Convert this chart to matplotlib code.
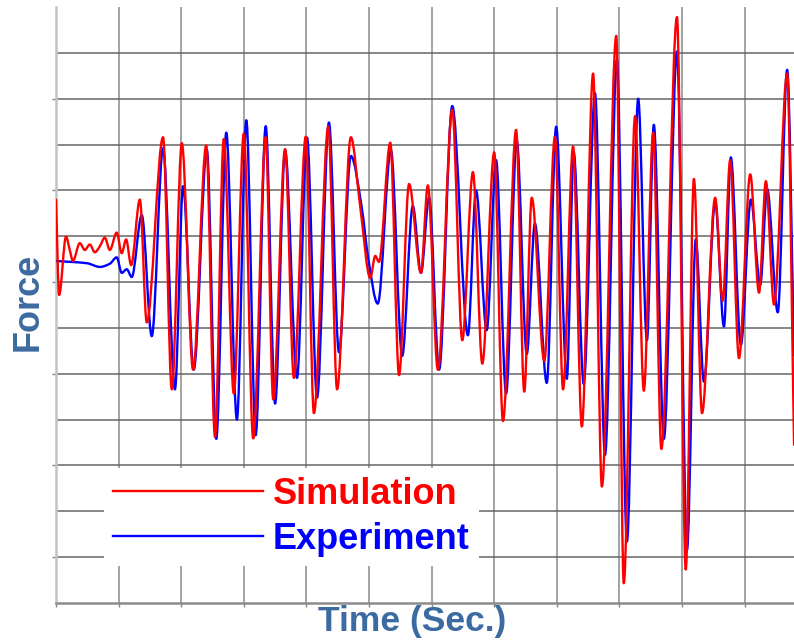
import numpy as np
import matplotlib
matplotlib.use("Agg")
import matplotlib.pyplot as plt
from matplotlib.path import Path
from matplotlib.patches import PathPatch
from matplotlib.lines import Line2D

# ---- data (time and force in grid units) ----
t_sim = [0.00, 0.05, 0.16, 0.22, 0.27, 0.38, 0.46, 0.54, 0.62, 0.70, 0.78, 0.86, 0.97, 1.05,
         1.12, 1.20, 1.34, 1.45, 1.71, 1.85, 2.01, 2.19, 2.40, 2.54, 2.68, 2.84, 3.00, 3.15,
         3.35, 3.47, 3.66, 3.80, 3.99, 4.12, 4.35, 4.49, 4.71, 4.86, 5.02, 5.10, 5.16, 5.34,
         5.48, 5.64, 5.83, 5.94, 6.10, 6.33, 6.49, 6.66, 6.81, 7.00, 7.14, 7.35, 7.48, 7.60,
         7.80, 7.97, 8.10, 8.26, 8.40, 8.58, 8.72, 8.95, 9.07, 9.25, 9.39, 9.54, 9.67, 9.92,
         10.06, 10.19, 10.32, 10.53, 10.65, 10.77, 10.91, 11.09, 11.23, 11.34, 11.47, 11.68, 11.79]
f_sim = [8.80, 6.72, 7.99, 7.70, 7.46, 7.85, 7.70, 7.82, 7.65, 7.78, 7.97, 7.70, 8.08, 7.63,
         7.93, 7.37, 8.80, 6.12, 10.16, 4.66, 10.03, 5.09, 9.98, 3.62, 10.12, 4.57, 10.24, 3.59,
         10.16, 4.44, 9.90, 4.91, 10.17, 4.14, 10.39, 4.66, 10.16, 8.64, 7.09, 7.57, 7.44, 10.04,
         4.97, 9.14, 7.20, 9.11, 5.09, 10.76, 5.73, 9.40, 5.22, 9.83, 3.97, 10.32, 4.61, 8.84,
         5.28, 10.17, 4.66, 9.96, 3.85, 11.55, 2.54, 12.37, 0.43, 10.62, 4.63, 10.26, 3.36, 12.78,
         0.73, 9.25, 4.14, 8.84, 6.59, 9.66, 5.34, 9.35, 6.77, 9.20, 6.51, 11.55, 3.45]

t_exp = [0.00, 0.50, 0.70, 0.86, 0.97, 1.05, 1.13, 1.21, 1.37, 1.53, 1.71, 1.90, 2.03, 2.20,
         2.41, 2.56, 2.72, 2.89, 3.04, 3.19, 3.35, 3.50, 3.66, 3.85, 4.01, 4.17, 4.36, 4.52,
         4.71, 4.89, 4.98, 5.14, 5.35, 5.53, 5.70, 5.83, 5.96, 6.12, 6.33, 6.58, 6.71, 6.88,
         7.03, 7.19, 7.36, 7.52, 7.65, 7.84, 7.99, 8.16, 8.27, 8.43, 8.61, 8.77, 8.96, 9.12,
         9.30, 9.44, 9.55, 9.71, 9.92, 10.08, 10.22, 10.35, 10.53, 10.67, 10.78, 10.94, 11.10,
         11.25, 11.36, 11.53, 11.68, 11.79]
f_exp = [7.46, 7.41, 7.33, 7.40, 7.54, 7.20, 7.28, 7.11, 8.46, 5.82, 9.92, 4.66, 9.09, 5.09,
         9.88, 3.58, 10.26, 4.00, 10.53, 3.66, 10.40, 4.35, 9.87, 4.91, 10.15, 4.48, 10.48, 5.47,
         9.75, 8.57, 7.59, 6.53, 9.87, 5.39, 8.66, 7.20, 8.84, 5.09, 10.84, 5.84, 9.00, 5.95,
         9.66, 4.57, 10.09, 5.43, 8.28, 4.80, 10.39, 4.89, 9.83, 4.78, 11.12, 3.23, 11.85, 1.34,
         11.00, 5.73, 10.43, 3.58, 12.03, 1.16, 7.93, 4.83, 8.75, 6.03, 9.72, 5.63, 8.80,
         6.94, 9.03, 6.34, 11.63, 5.40]

labels = ["Simulation", "Experiment"]
colors = ["#ff0000", "#0000ff"]
label_color = "#3b6ba0"


def smooth_path(t, f):
    """Smooth curve through the read points (monotone cubic Bezier segments)."""
    t = np.asarray(t, float)
    f = np.asarray(f, float)
    h = np.diff(t)
    d = np.diff(f) / h
    m = np.zeros_like(f)
    m[0], m[-1] = d[0], d[-1]
    for k in range(1, len(f) - 1):
        if d[k - 1] * d[k] > 0:
            w1 = 2 * h[k] + h[k - 1]
            w2 = h[k] + 2 * h[k - 1]
            m[k] = (w1 + w2) / (w1 / d[k - 1] + w2 / d[k])
    verts = [(t[0], f[0])]
    codes = [Path.MOVETO]
    for k in range(len(f) - 1):
        verts += [(t[k] + h[k] / 3, f[k] + m[k] * h[k] / 3),
                  (t[k + 1] - h[k] / 3, f[k + 1] - m[k + 1] * h[k] / 3),
                  (t[k + 1], f[k + 1])]
        codes += [Path.CURVE4] * 3
    return Path(verts, codes)


W, H = 794, 641
fig = plt.figure(figsize=(W / 100, H / 100), dpi=100)
ax = fig.add_axes([56 / W, 1 - 603 / H, (W - 56) / W, (603 - 7) / H])

ax.set_xlim(0, (W - 56) / 62.6)
ax.set_ylim(0, 13)

ax.add_patch(PathPatch(smooth_path(t_exp, f_exp), fill=False, edgecolor=colors[1],
                       lw=1.7, joinstyle="round", capstyle="round", zorder=3))
ax.add_patch(PathPatch(smooth_path(t_sim, f_sim), fill=False, edgecolor=colors[0],
                       lw=1.7, joinstyle="round", capstyle="round", zorder=4))

# grid & ticks
ax.set_xticks(np.arange(0, 12))
ax.set_yticks(np.arange(1, 13, 2))
ax.set_yticks(np.arange(2, 13, 2), minor=True)
ax.tick_params(axis="both", which="both", labelleft=False, labelbottom=False,
               direction="out", color="#888888", width=1.0)
ax.tick_params(axis="x", which="major", length=3)
ax.tick_params(axis="y", which="major", length=3)
ax.tick_params(axis="y", which="minor", length=0)
ax.set_axisbelow(True)
ax.grid(axis="x", which="major", color="#8a8a8a", lw=1.1)
ax.grid(axis="y", which="both", color="#666666", lw=1.1)

for s in ("top", "right"):
    ax.spines[s].set_visible(False)
ax.spines["left"].set_color("#c4c4c4")
ax.spines["left"].set_linewidth(1.8)
ax.spines["bottom"].set_color("#8c8c8c")
ax.spines["bottom"].set_linewidth(1.8)

# labels
ax.set_ylabel("Force", fontsize=26, fontweight="bold", color=label_color,
              family="Liberation Sans")
ax.yaxis.set_label_coords(-0.0135, 0.505)
ax.set_xlabel("Time (Sec.)", fontsize=25.5, fontweight="bold", color=label_color,
              family="Liberation Sans")
ax.xaxis.set_label_coords(0.483, -0.0035)

# legend
handles = [Line2D([], [], color=c, lw=1.7) for c in colors]
leg = ax.legend(handles, labels, loc="upper left",
                bbox_to_anchor=(104 / W, 1 - 468 / H), bbox_transform=fig.transFigure,
                borderaxespad=0, borderpad=0.25, handlelength=4.15, handletextpad=0.28,
                labelspacing=0.27, frameon=True, fancybox=False, framealpha=1,
                facecolor="white", edgecolor="none", labelcolor="linecolor",
                prop={"family": "Liberation Sans", "weight": "bold", "size": 26})
leg.set_zorder(10)

fig.savefig("out.png", dpi=100)
